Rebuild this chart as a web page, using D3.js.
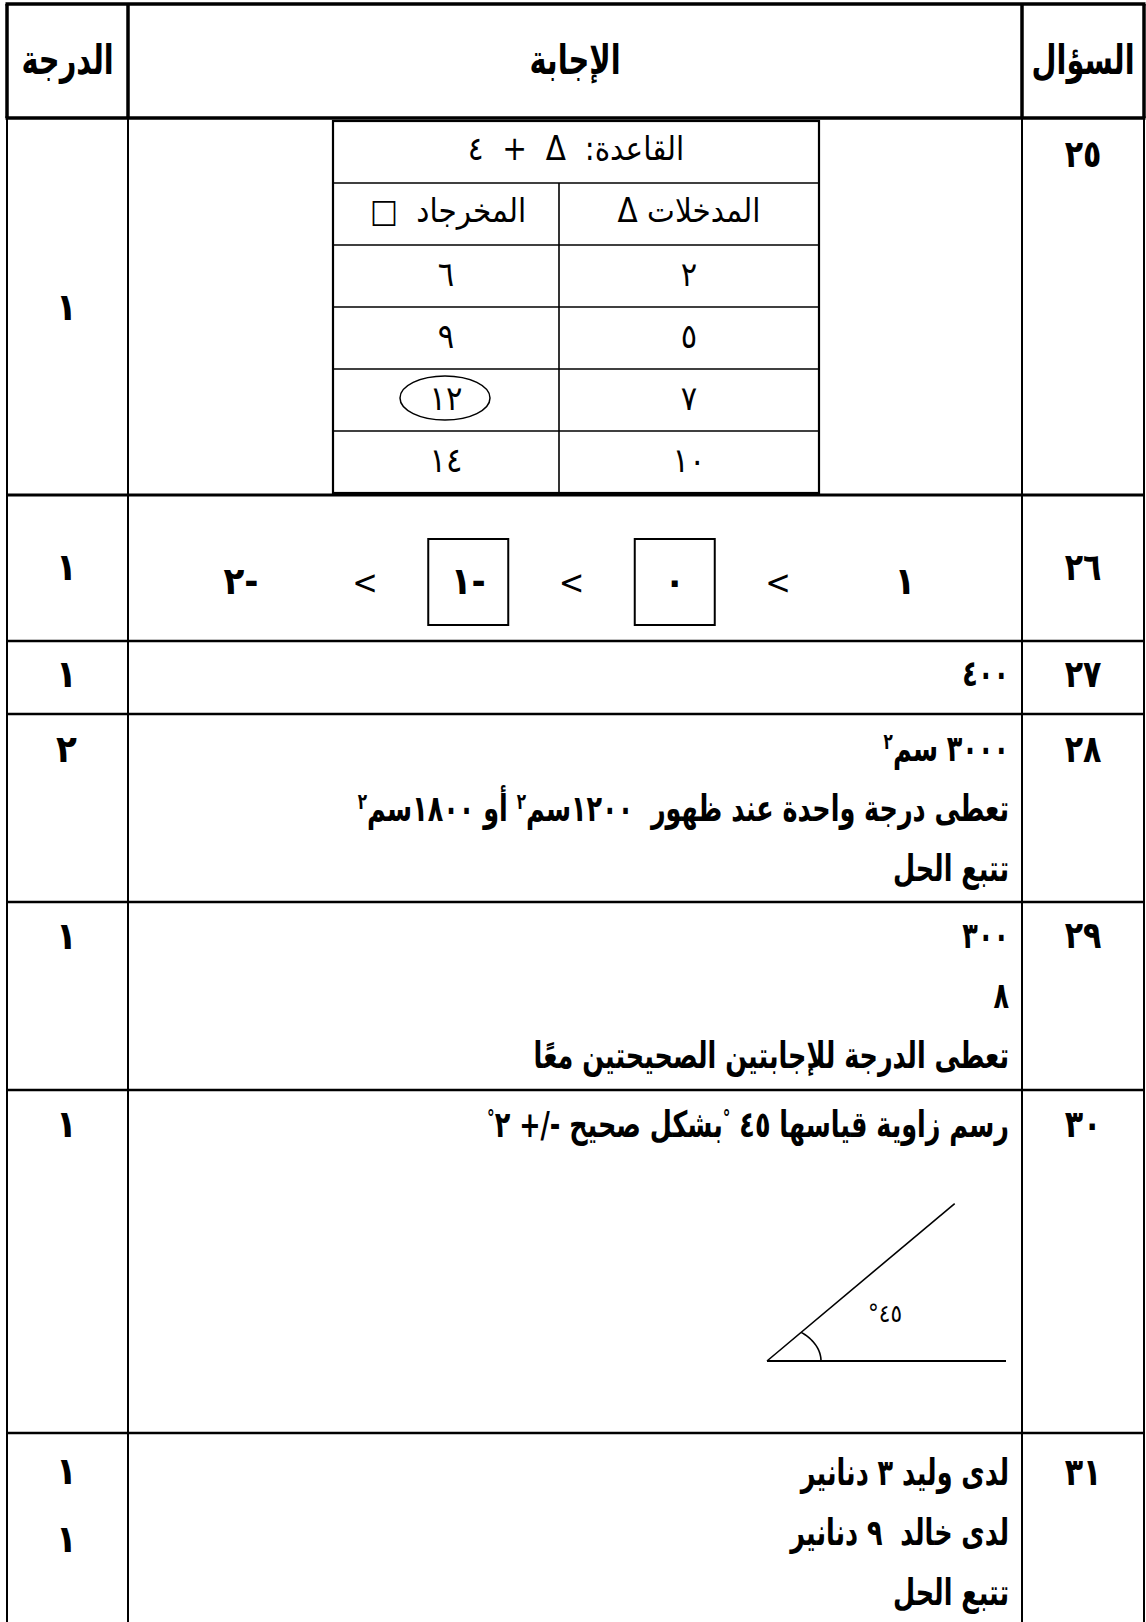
<!DOCTYPE html>
<html>
<head>
<meta charset="utf-8">
<script src="https://cdn.jsdelivr.net/npm/d3@7"></script>
<style>
html,body{margin:0;padding:0;background:#fff;}
svg{display:block;}
text{white-space:pre;}
</style>
</head>
<body>
<div id="chart"></div>
<script>
// ---------------- data ----------------
const headers = ["الدرجة", "الإجابة", "السؤال"];
const questions = ["٢٥", "٢٦", "٢٧", "٢٨", "٢٩", "٣٠", "٣١"];
const grades = [["١"], ["١"], ["١"], ["٢"], ["١"], ["١"], ["١", "١"]];
const answers = [
  null,
  null,
  ["٤٠٠"],
  ["٣٠٠٠ سم^٢", "تعطى درجة واحدة عند ظهور  ١٢٠٠سم^٢ أو ١٨٠٠سم^٢", "تتبع الحل"],
  ["٣٠٠", "٨", "تعطى الدرجة للإجابتين الصحيحتين معًا"],
  ["رسم زاوية قياسها ٤٥ ^°بشكل صحيح -/+ ٢^°"],
  ["لدى وليد ٣ دنانير", "لدى خالد  ٩ دنانير", "تتبع الحل"]
];
// question 25: function table
const ruleLabel = "القاعدة:  Δ  +  ٤";
const inputHeader = "المدخلات Δ";
const outputHeader = "المخرجاد  □";
const inputs = ["٢", "٥", "٧", "١٠"];
const outputs = ["٦", "٩", "١٢", "١٤"];
const circledOutput = "١٢";
// question 26: ordering (visual left to right)
const chain = ["٢-", "<", "١-", "<", "٠", "<", "١"];
const boxedTokens = ["١-", "٠"];
// question 30: angle
const angleDegrees = 40;
const angleLabel = "٤٥°";

// ---------------- layout ----------------
const W = 1146, H = 1622;
const FONT = "'DejaVu Sans Condensed','DejaVu Sans',sans-serif";
const X = {left: 7, c1: 128, c2: 1022, right: 1144};
const headerTop = 4, headerBottom = 118;
const rowEdges = [118, 495, 641, 714, 902, 1090, 1433, 1640];
const firstBaseline = [null, 580, 686, 761, 948, 1137, 1485];
const lineStep = 60;
const answerRight = 1009;
const condense = 0.78;

const svg = d3.select("#chart").append("svg")
  .attr("width", W).attr("height", H)
  .style("background", "#fff");

const yRowEnd = d3.scaleOrdinal(questions, rowEdges.slice(1));
const colCenter = d3.scaleOrdinal(headers, [(X.left + X.c1) / 2, (X.c1 + X.c2) / 2, (X.c2 + X.right) / 2]);

const g = svg.append("g");

// ---------- grid lines ----------
const lines = g.append("g").attr("stroke", "#000").attr("fill", "none");
lines.append("line").attr("x1", X.left - 1.5).attr("x2", X.right + 1.5).attr("y1", headerTop).attr("y2", headerTop).attr("stroke-width", 3.5);
lines.append("line").attr("x1", X.left - 1.5).attr("x2", X.right + 1.5).attr("y1", headerBottom).attr("y2", headerBottom).attr("stroke-width", 3.5);
[X.left, X.c1, X.c2, X.right].forEach(x => {
  lines.append("line").attr("x1", x).attr("x2", x).attr("y1", headerTop).attr("y2", headerBottom).attr("stroke-width", 3.5);
  lines.append("line").attr("x1", x).attr("x2", x).attr("y1", headerBottom).attr("y2", H).attr("stroke-width", 2);
});
questions.forEach((q, i) => {
  if (i === questions.length - 1) return;
  lines.append("line")
    .attr("x1", X.left - 1).attr("x2", X.right + 1)
    .attr("y1", yRowEnd(q)).attr("y2", yRowEnd(q))
    .attr("stroke-width", i === 0 ? 3.2 : 2.6);
});

// ---------- header text (bold, condensed) ----------
const hdr = g.append("g").attr("font-family", FONT).attr("font-weight", "bold")
  .attr("text-anchor", "middle").attr("direction", "rtl");
const hdrText = hdr.selectAll("text").data(headers).join("text")
  .attr("transform", d => `translate(${colCenter(d)},74) scale(${condense},1)`)
  .attr("font-size", 30).text(d => d);
{
  const w = hdrText.filter(d => d === "السؤال").node().getComputedTextLength();
  hdrText.attr("font-size", 30 * 103 / (w * condense));
}

// ---------- question numbers & grades ----------
const labelBase = [167, 580, 687, 762, 948, 1137, 1485];
const gradeBase = [[320], [580], [687], [762], [949], [1137], [1484, 1552]];
const lab = g.append("g").attr("font-family", FONT).attr("font-weight", "bold")
  .attr("text-anchor", "middle").attr("font-size", 38);
lab.selectAll("text.q").data(questions).join("text").attr("class", "q")
  .attr("transform", (d, i) => `translate(${colCenter("السؤال")},${labelBase[i]}) scale(0.88,1)`)
  .attr("letter-spacing", 3).text(d => d);
grades.forEach((gs, i) => {
  gs.forEach((v, j) => {
    lab.append("text").attr("x", colCenter("الدرجة") - 1).attr("y", gradeBase[i][j]).text(v);
  });
});

// ---------- answers (bold, condensed, right aligned) ----------
const ans = g.append("g").attr("font-family", FONT).attr("font-weight", "bold");
const answerTexts = [];
answers.forEach((lns, i) => {
  if (!lns) return;
  lns.forEach((ln, j) => {
    const t = ans.append("text")
      .attr("transform", `translate(${answerRight},${firstBaseline[i] + j * lineStep}) scale(${condense},1)`)
      .attr("direction", "rtl").attr("text-anchor", "start")
      .attr("font-size", 26);
    ln.split(/(\^.)/).filter(s => s.length).forEach(seg => {
      if (seg[0] === "^") {
        t.append("tspan").attr("font-size", "60%").attr("baseline-shift", "super").text(seg.slice(1));
      } else {
        t.append("tspan").text(seg);
      }
    });
    answerTexts.push({row: i, line: j, node: t});
  });
});
{
  const ref = answerTexts.find(a => a.row === 3 && a.line === 1).node;
  const w = ref.node().getComputedTextLength();
  const fs = 26 * 651 / (w * condense);
  answerTexts.forEach(a => a.node.attr("font-size", fs));
}

// ---------- question 25 function table ----------
const it = {left: 333, mid: 559, right: 819, top: 121, rowH: 62};
const innerRows = 6;
const yIn = d3.scaleLinear().domain([0, innerRows]).range([it.top, it.top + it.rowH * innerRows]);
const tbl = g.append("g");
tbl.append("rect").attr("x", it.left).attr("y", yIn(0)).attr("width", it.right - it.left).attr("height", yIn(innerRows) - yIn(0))
  .attr("fill", "none").attr("stroke", "#000").attr("stroke-width", 2.2);
d3.range(1, innerRows).forEach(k => {
  tbl.append("line").attr("x1", it.left).attr("x2", it.right).attr("y1", yIn(k)).attr("y2", yIn(k))
    .attr("stroke", "#000").attr("stroke-width", 1.6);
});
tbl.append("line").attr("x1", it.mid).attr("x2", it.mid).attr("y1", yIn(1)).attr("y2", yIn(innerRows))
  .attr("stroke", "#000").attr("stroke-width", 1.6);

const ctrL = (it.left + it.mid) / 2, ctrR = (it.mid + it.right) / 2;
const tt = tbl.append("g").attr("font-family", FONT).attr("text-anchor", "middle").attr("direction", "rtl");
const heads = tt.append("g");
heads.append("text").attr("x", (it.left + it.right) / 2).attr("y", yIn(0.5) + 8).text(ruleLabel);
const inH = heads.append("text").attr("x", ctrR).attr("y", yIn(1.5) + 8).text(inputHeader);
heads.append("text").attr("x", ctrL + 2).attr("y", yIn(1.5) + 8).text(outputHeader);
heads.selectAll("text").attr("font-size", 22);
{
  const w = inH.node().getComputedTextLength();
  heads.selectAll("text").attr("font-size", 22 * 143 / w);
}
tt.selectAll("text.in").data(inputs).join("text").attr("class", "in")
  .attr("x", ctrR).attr("y", (d, k) => yIn(k + 2.5) + 10).attr("font-size", 34).text(d => d);
tt.selectAll("text.out").data(outputs).join("text").attr("class", "out")
  .attr("x", ctrL).attr("y", (d, k) => yIn(k + 2.5) + 10).attr("font-size", 34).text(d => d);
const ci = outputs.indexOf(circledOutput);
tbl.append("ellipse").attr("cx", ctrL - 1).attr("cy", yIn(ci + 2.5) - 2).attr("rx", 45).attr("ry", 22)
  .attr("fill", "none").attr("stroke", "#000").attr("stroke-width", 1.5);

// ---------- question 26 ordering ----------
const xInner = d3.scaleLinear().domain([1, 5]).range([365, 778]);
const chainX = k => k === 0 ? xInner(1) - 124 : k === chain.length - 1 ? xInner(5) + 127 : xInner(k);
const c26 = g.append("g").attr("font-family", FONT).attr("text-anchor", "middle");
chain.forEach((tok, k) => {
  const isSign = tok === "<";
  c26.append("text").attr("x", chainX(k)).attr("y", isSign ? 594 : 594)
    .attr("font-size", isSign ? 34 : 38).attr("font-weight", isSign ? "normal" : "bold")
    .style("direction", "ltr").style("unicode-bidi", "bidi-override")
    .text(tok);
  if (boxedTokens.includes(tok)) {
    c26.append("rect").attr("x", chainX(k) - 40).attr("y", 539).attr("width", 80).attr("height", 86)
      .attr("fill", "none").attr("stroke", "#000").attr("stroke-width", 2);
  }
});

// ---------- question 30 angle ----------
const vx = 767, vy = 1361, baseLen = 239, armLen = 245;
const rad = angleDegrees * Math.PI / 180;
const ang = g.append("g").attr("stroke", "#000").attr("fill", "none");
ang.append("line").attr("x1", vx).attr("y1", vy).attr("x2", vx + baseLen).attr("y2", vy).attr("stroke-width", 1.8);
ang.append("line").attr("x1", vx).attr("y1", vy)
  .attr("x2", vx + armLen * Math.cos(rad)).attr("y2", vy - armLen * Math.sin(rad)).attr("stroke-width", 1.6);
{
  const rx = 54, ry = 37;
  const tpar = 1 / Math.sqrt((Math.cos(rad) / rx) ** 2 + (Math.sin(rad) / ry) ** 2);
  const p0 = [vx + tpar * Math.cos(rad), vy - tpar * Math.sin(rad)];
  const path = d3.path();
  path.moveTo(p0[0], p0[1]);
  const steps = 20;
  const a0 = Math.atan2((vy - p0[1]) / ry, (p0[0] - vx) / rx);
  for (let s = 1; s <= steps; s++) {
    const a = a0 * (1 - s / steps);
    path.lineTo(vx + rx * Math.cos(a), vy - ry * Math.sin(a));
  }
  ang.append("path").attr("d", path.toString()).attr("stroke-width", 1.6);
}
g.append("text").attr("x", 885).attr("y", 1322).attr("font-family", FONT)
  .attr("font-size", 24).attr("text-anchor", "middle").attr("direction", "rtl").text(angleLabel);
</script>
</body>
</html>
